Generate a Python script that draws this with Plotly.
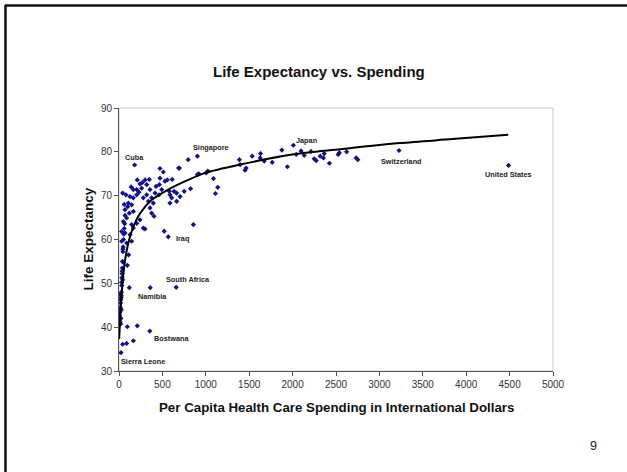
import plotly.graph_objects as go

# Per-country health spending (international dollars) and life expectancy (years)
spending = [
    180, 903, 2009, 3226, 4488, 567, 521, 659, 360, 355, 23,
    # low-spending column near the axis
    8, 12, 15, 18, 20, 25, 28, 30, 33, 35, 38, 40, 45, 48, 52, 55, 60, 65, 70,
    14, 22, 26, 32, 42, 16, 36, 50, 27, 44,
    88, 42, 19, 96, 211, 165, 119, 96, 111, 857,
    # main cluster
    42, 81, 127, 165, 204, 108, 146, 69, 119, 165, 50, 88, 146, 204, 165, 31, 69,
    127, 31, 88, 146, 242, 280, 300, 319, 357, 242, 261, 204, 319, 280, 376, 338,
    415, 427, 396, 357, 376, 403, 472, 472, 511, 530, 465, 492, 461, 557, 580, 587,
    607, 634, 664, 687, 703, 587, 664, 211, 300, 349, 165, 60, 100, 140, 230, 270,
    # upper-middle spenders
    797, 903, 1005, 1023, 1088, 1111, 1138, 825, 751, 696, 613, 920,
    1387, 1396, 1465, 1452, 1535, 1631, 1627, 1673, 1765, 1876, 1940,
    2041, 2097, 2134, 2212, 2249, 2272, 2318, 2355, 2364, 2424, 2525, 2539,
    2622, 2733, 2751,
]
life_exp = [
    77.0, 79.0, 81.5, 80.3, 76.9, 60.6, 61.9, 49.1, 49.0, 39.1, 34.2,
    42.5, 43.5, 44.5, 45.5, 46.3, 47.2, 48.0, 50.2, 51.3, 52.2, 53.5, 55.0, 57.2, 58.3, 60.0, 61.2, 62.5, 63.6, 65.5,
    41.2, 42.0, 46.8, 49.5, 50.8, 47.5, 52.8, 54.8, 44.0, 57.8,
    36.3, 36.1, 40.7, 40.1, 40.3, 36.9, 49.0, 54.1, 56.5, 63.4,
    70.6, 70.2, 69.8, 69.5, 70.2, 68.3, 67.9, 66.8, 66.0, 66.4, 64.1, 64.9, 63.4, 63.7, 62.6, 61.8, 61.5,
    61.1, 59.6, 59.2, 59.6, 64.5, 62.6, 62.4, 72.5, 71.4, 72.7, 71.7, 71.4, 70.2, 69.5, 69.5, 68.7,
    70.6, 72.1, 68.3, 67.2, 66.0, 65.3, 74.0, 76.2, 75.4, 73.3, 72.5, 71.4, 70.2, 73.6, 71.0, 70.2,
    69.5, 71.0, 70.6, 76.3, 69.8, 68.3, 68.7, 73.6, 73.6, 73.7, 71.4, 68.0, 67.5, 72.0, 70.8, 73.0,
    78.2, 74.8, 75.2, 75.6, 73.9, 70.5, 71.9, 71.6, 71.0, 76.3, 73.7, 75.0,
    78.2, 77.1, 76.3, 75.8, 79.0, 79.6, 78.6, 77.9, 77.6, 80.4, 76.6,
    79.4, 80.2, 79.2, 80.1, 78.4, 78.0, 79.0, 78.6, 79.6, 77.4, 79.4, 79.8,
    80.0, 78.6, 78.2,
]

# Logarithmic trend line, sampled along its drawn path
trend_x = [2, 37, 83, 152, 244, 382, 567, 797, 995, 1396, 1995, 2548, 3240, 3839, 4484]
trend_y = [37.3, 49.3, 56.9, 62.2, 66.0, 69.1, 71.4, 73.6, 75.2, 77.1, 79.4, 80.6, 82.0, 82.9, 83.9]

# Country labels and where their text sits
label_text = ["Cuba", "Singapore", "Japan", "Switzerland", "United States",
              "Iraq", "South Africa", "Namibia", "Bostwana", "Sierra Leone"]
label_x = [180, 1065, 2157, 3249, 4493, 728, 797, 382, 604, 281]
label_y = [78.7, 81.0, 82.5, 77.9, 74.8, 60.2, 50.9, 47.0, 37.5, 32.1]

x_ticks = [0, 500, 1000, 1500, 2000, 2500, 3000, 3500, 4000, 4500, 5000]
y_ticks = [30, 40, 50, 60, 70, 80, 90]

W, H = 627, 472
L, R, T, B = 119, 553, 108, 371  # plot area edges in pixels


def px_x(p):
    return (p - L) / (R - L)


def px_y(p):
    return (B - p) / (B - T)


fig = go.Figure()
fig.add_trace(go.Scatter(
    x=spending, y=life_exp, mode="markers",
    marker=dict(symbol="diamond", size=4, color="#10108a"),
    hoverinfo="x+y", showlegend=False,
))
fig.add_trace(go.Scatter(
    x=trend_x, y=trend_y, mode="lines",
    line=dict(color="black", width=2, shape="spline", smoothing=0.8),
    hoverinfo="skip", showlegend=False,
))

for t, lx, ly in zip(label_text, label_x, label_y):
    fig.add_annotation(x=lx, y=ly, text=f"<b>{t}</b>", showarrow=False,
                       xanchor="center", yanchor="middle",
                       font=dict(family="Liberation Sans, Arial", size=7.3, color="#222222"))

font_b = dict(family="Liberation Sans, Arial", color="#111111")


def page_text(x, y, text, size, angle=0, font=font_b):
    fig.add_annotation(xref="paper", yref="paper", x=px_x(x), y=px_y(y),
                       xanchor="center", yanchor="middle", textangle=angle,
                       text=text, showarrow=False, font=dict(size=size, **font))


page_text(319, 72, "<b>Life Expectancy vs. Spending</b>", 15)
page_text(336, 407, "<b>Per Capita Health Care Spending in International Dollars</b>", 13.3)
page_text(88, 239.5, "<b>Life Expectancy</b>", 13.5, angle=-90)
page_text(593, 446, "9", 12.5, font=dict(family="Liberation Sans, Arial", color="#222222"))

# plot-area frame and slide border
fig.add_shape(type="rect", xref="paper", yref="paper", x0=0, y0=0, x1=1, y1=1,
              line=dict(color="#c8c8c8", width=1), layer="below")
fig.add_shape(type="line", xref="paper", yref="paper",
              x0=px_x(5), y0=px_y(5.5), x1=px_x(W), y1=px_y(5.5),
              line=dict(color="#111111", width=2.5))
fig.add_shape(type="line", xref="paper", yref="paper",
              x0=px_x(5.5), y0=px_y(5), x1=px_x(5.5), y1=px_y(H),
              line=dict(color="#111111", width=2.5))

tick_font = dict(family="Liberation Sans, Arial", size=10, color="#333333")
fig.update_xaxes(range=[0, 5000], tickvals=x_ticks, ticks="outside", ticklen=4,
                 tickcolor="#555555", showline=True, linecolor="#555555", linewidth=1,
                 showgrid=False, zeroline=False, tickfont=tick_font)
fig.update_yaxes(range=[30, 90], tickvals=y_ticks, ticks="outside", ticklen=4,
                 tickcolor="#555555", showline=True, linecolor="#555555", linewidth=1,
                 showgrid=False, zeroline=False, tickfont=tick_font)

fig.update_layout(
    width=W, height=H, autosize=False,
    margin=dict(l=L, r=W - R, t=T, b=H - B),
    paper_bgcolor="white", plot_bgcolor="white",
)
fig.write_html("out.html")
